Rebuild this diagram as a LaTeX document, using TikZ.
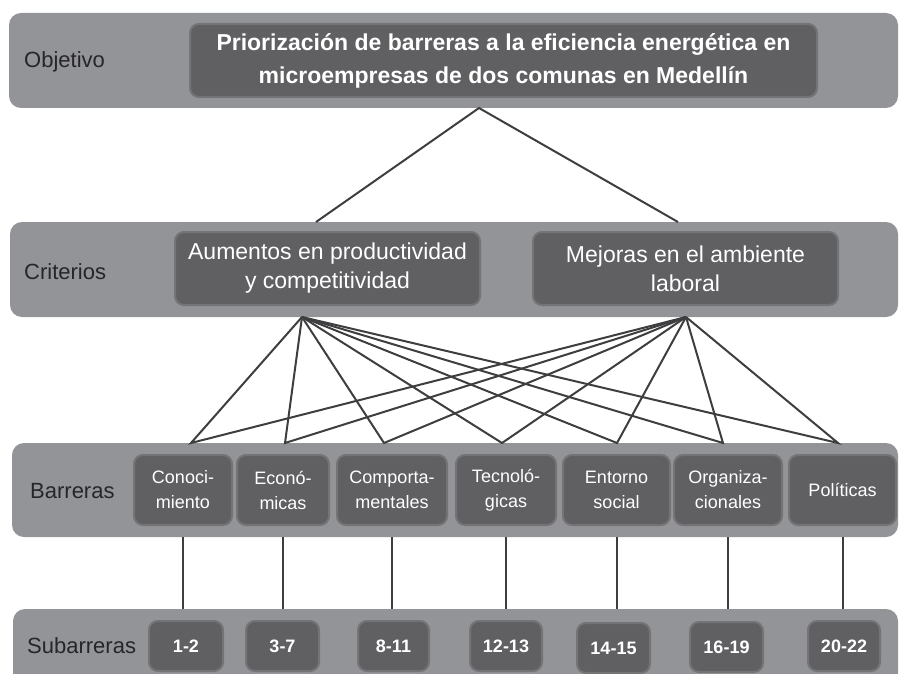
\documentclass[tikz,border=0pt]{standalone}
\usepackage{fontspec}
\setmainfont{Liberation Sans}
\definecolor{bandgray}{RGB}{147,148,152}
\definecolor{boxgray}{RGB}{96,96,99}
\definecolor{edgegray}{RGB}{116,116,119}
\definecolor{linegray}{RGB}{62,62,64}
\definecolor{labgray}{RGB}{38,38,40}

\begin{document}
\begin{tikzpicture}
  [x=1pt,y=-1pt,
   bandN/.style={rectangle,rounded corners=12pt,fill=bandgray,inner sep=0pt},
   boxN/.style={rectangle,rounded corners=9pt,fill=boxgray,draw=edgegray,line width=2pt,text=white,align=center,inner sep=0pt},
   labN/.style={anchor=west,text=labgray,font=\fontsize{22}{26}\selectfont,inner sep=0pt},
   barN/.style={boxN,minimum height=70pt,font=\fontsize{18}{25}\selectfont},
   numN/.style={boxN,minimum height=50pt,font=\fontsize{18}{22}\selectfont\bfseries},
   linkE/.style={draw=linegray,line width=2pt},
  ]

 \useasboundingbox (0,0) rectangle (899,674);
 \clip (0,0) rectangle (899,674);

 % bands
 \node[bandN,minimum width=889pt,minimum height=95pt] (objband) at (453.5,60.5) {};
 \node[bandN,minimum width=888pt,minimum height=95pt] (critband) at (454,269.5) {};
 \node[bandN,minimum width=886pt,minimum height=94pt] (barband) at (455,490) {};
 \node[bandN,minimum width=885pt,minimum height=91pt] (subband) at (455.5,654.5) {};

 \node[labN] (objlab) at (24,62) {Objetivo};
 \node[labN] (critlab) at (24,272) {Criterios};
 \node[labN] (barlab) at (30,491) {Barreras};
 \node[labN] (sublab) at (27,646) {Subarreras};

 % objetivo y criterios
 \node[boxN,minimum width=627pt,minimum height=73pt,font=\fontsize{23}{33}\selectfont\bfseries] (goal) at (503.5,60.5)
   {Priorización de barreras a la eficiencia energética en\\microempresas de dos comunas en Medellín};
 \node[boxN,minimum width=305pt,minimum height=73pt,font=\fontsize{23}{29}\selectfont] (prod) at (327.5,268.5)
   {Aumentos en productividad\\y competitividad};
 \node[boxN,minimum width=305pt,minimum height=73pt,font=\fontsize{23}{29}\selectfont] (amb) at (685.5,268.5)
   {Mejoras en el ambiente\\laboral};

 % barreras
 \node[barN,minimum width=98pt] (b1) at (183,490) {Conoci-\\miento};
 \node[barN,minimum width=92pt] (b2) at (283,490) {Econó-\\micas};
 \node[barN,minimum width=110pt] (b3) at (392,490) {Comporta-\\mentales};
 \node[barN,minimum width=100pt] (b4) at (506,490) {Tecnoló-\\gicas};
 \node[barN,minimum width=107pt] (b5) at (616.5,490) {Entorno\\social};
 \node[barN,minimum width=108pt] (b6) at (728,490) {Organiza-\\cionales};
 \node[barN,minimum width=107pt] (b7) at (842.5,490) {Políticas};

 % subbarreras
 \node[numN,minimum width=74pt] (s1) at (186,646) {1-2};
 \node[numN,minimum width=73pt] (s2) at (282.5,646) {3-7};
 \node[numN,minimum width=71pt] (s3) at (393.5,646) {8-11};
 \node[numN,minimum width=72pt] (s4) at (506,646) {12-13};
 \node[numN,minimum width=73pt] (s5) at (613.5,648) {14-15};
 \node[numN,minimum width=73pt] (s6) at (726.5,647) {16-19};
 \node[numN,minimum width=72pt] (s7) at (844,646) {20-22};

 % conexiones
 \coordinate (goalbot) at (479,108);
 \coordinate (prodtop) at (316,222);
 \coordinate (ambtop) at (678,222);
 \coordinate (prodbot) at (302,317);
 \coordinate (ambbot) at (686,317);
 \foreach \x [count=\i] in {191,285,384,502,617,723,838}
   \coordinate (bt\i) at (\x,443);

 \draw[linkE] (prodtop) -- (goalbot) -- (ambtop);
 \foreach \i in {1,...,7}
   \draw[linkE] (prodbot) -- (bt\i) -- (ambbot);
 \foreach \i in {1,...,7}
   \draw[linkE] (b\i.south |- barband.south) -- (b\i.south |- subband.north);
\end{tikzpicture}
\end{document}
